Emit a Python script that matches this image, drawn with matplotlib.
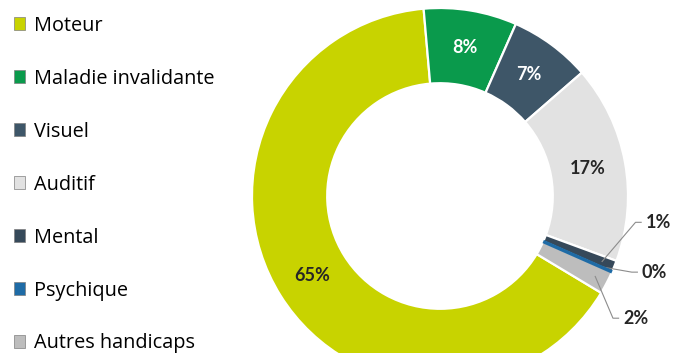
import numpy as np
import matplotlib
matplotlib.use("Agg")
import matplotlib.pyplot as plt
from matplotlib.patches import Patch

plt.rcParams['font.family'] = ['Lato', 'DejaVu Sans']

categories = ["Moteur", "Maladie invalidante", "Visuel", "Auditif",
              "Mental", "Psychique", "Autres handicaps"]
values = [65, 8, 7, 17, 1, 0, 2]
colors = ["#C8D300", "#0A9A4C", "#3E5668", "#E2E2E2",
          "#36495A", "#1E6BA6", "#BDBDBD"]
label_colors = ["#262626", "white", "white", "#262626",
                "#262626", "#262626", "#262626"]
# small slices get their label outside the ring with a leader line
outside = [False, False, False, False, True, True, True]
outside_pos = {4: (1.16, -0.14), 5: (1.14, -0.405), 6: (1.04, -0.65)}

fig = plt.figure(figsize=(6.78, 3.53), dpi=100)
W, H = 678, 353
cx, cy, R = 440, 196, 188
ax = fig.add_axes([(cx - R) / W, (H - cy - R) / H, 2 * R / W, 2 * R / H])

start = -31
wedges, _ = ax.pie(values, colors=colors, startangle=start, counterclock=False,
                   radius=1.0, wedgeprops=dict(width=0.4, edgecolor='white', linewidth=1.6))
ax.set_xlim(-1, 1)
ax.set_ylim(-1, 1)
ax.set_aspect('equal')
ax.axis('off')
for w, c, v in zip(wedges, colors, values):
    if v == 0:
        w.set_edgecolor(c)
        w.set_linewidth(2.5)
        w.set_zorder(3)

total = sum(values)
ang = start
for i, v in enumerate(values):
    span = 360 * v / total
    mid = np.deg2rad(ang - span / 2)
    ang -= span
    txt = f"{v:.0f}%"
    if not outside[i]:
        r = 0.8
        ax.text(r * np.cos(mid), r * np.sin(mid), txt, ha='center', va='center',
                fontsize=13, fontweight='bold', color=label_colors[i])
    else:
        lx, ly = outside_pos[i]
        px, py = 0.93 * np.cos(mid), 0.93 * np.sin(mid)
        ax.plot([px, lx - 0.12, lx - 0.09], [py, ly, ly], color='#8C8C8C', lw=0.8,
                clip_on=False)
        ax.text(lx, ly, txt, ha='center', va='center', fontsize=13,
                fontweight='bold', color=label_colors[i], clip_on=False)

handles = [Patch(facecolor=c, edgecolor='#7F7F7F', linewidth=0.5) for c in colors]
fig.legend(handles, categories, loc='upper left', bbox_to_anchor=(0.0, 0.995),
           frameon=False, prop={'family': 'Open Sans', 'size': 14.3},
           handlelength=0.58, handleheight=0.58,
           handletextpad=0.45, labelspacing=1.66, borderaxespad=0.3)

fig.savefig("out.png", dpi=100, facecolor='white')
